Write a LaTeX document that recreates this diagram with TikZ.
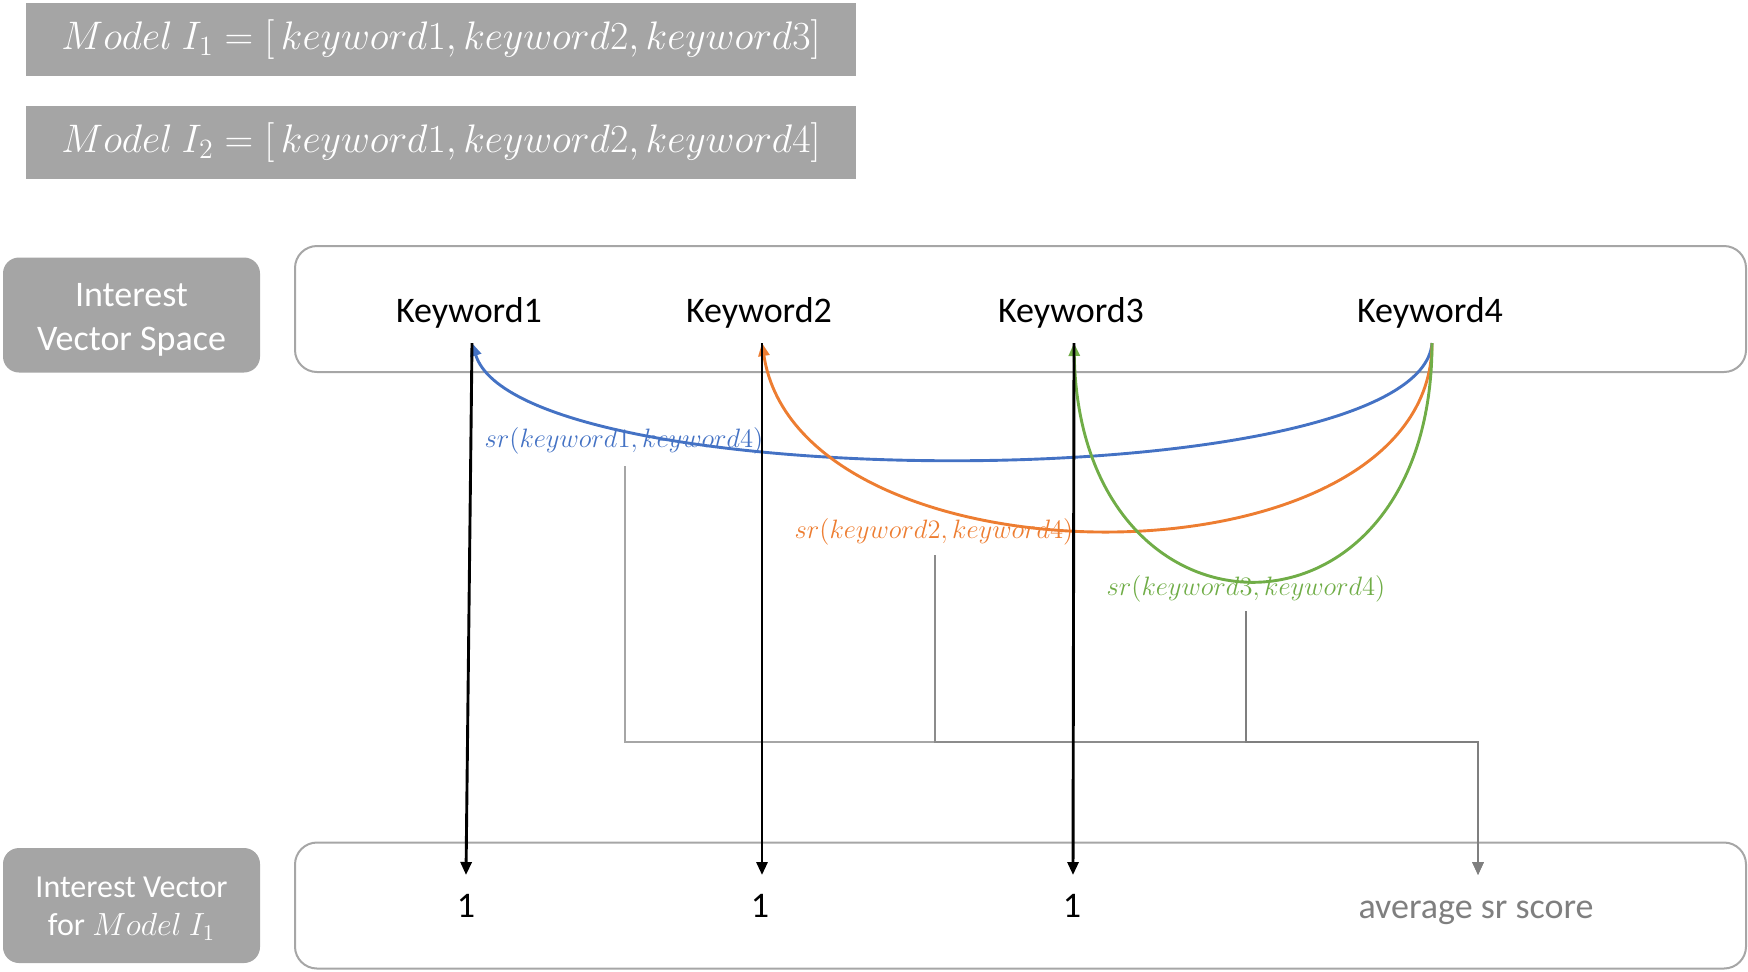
\RequirePackage{fix-cm}
\documentclass[tikz,border=0pt]{standalone}
\usepackage[no-math]{fontspec}
\setmainfont{Carlito}
\usetikzlibrary{arrows.meta}
\definecolor{boxgray}{HTML}{A5A5A5}
\definecolor{panelgray}{HTML}{A6A6A6}
\definecolor{kblue}{HTML}{4472C4}
\definecolor{korange}{HTML}{ED7D31}
\definecolor{kgreen}{HTML}{70AD47}
\definecolor{glight}{HTML}{A6A6A6}
\definecolor{gmid}{HTML}{8C8C8C}
\definecolor{gdark}{HTML}{7F7F7F}
\begin{document}
\begin{tikzpicture}[x=0.5pt,y=-0.5pt,
  graybox/.style={fill=boxgray, text=white, rounded corners=8pt, minimum width=128.5pt, minimum height=57.5pt, align=center, inner sep=0pt},
  topbox/.style={fill=boxgray, text=white, minimum width=415pt, minimum height=36.5pt, inner sep=0pt, font=\fontsize{19.9}{23}\selectfont},
  panel/.style={draw=panelgray, line width=1pt, rounded corners=11pt, minimum width=725.5pt, minimum height=63pt, inner sep=0pt},
  kw/.style={font=\fontsize{18}{22}\selectfont, inner sep=0pt},
  lbl/.style={font=\fontsize{13.3}{16}\selectfont, inner sep=0pt},
  tip/.style={-{Triangle[length=6.5pt,width=5.5pt]}},
  blk/.style={tip, line width=1.45pt, black},
  arc/.style={tip, line width=1.45pt},
  conn/.style={tip, line width=1.15pt}
]
\useasboundingbox (0,0) rectangle (1748,971);

% top formula boxes
\node[topbox] (m1) at (441,39.5) {$Model\ I_1 = [\,keyword1, keyword2, keyword3]$};
\node[topbox] (m2) at (441,142.5) {$Model\ I_2 = [\,keyword1, keyword2, keyword4]$};

% side labels (boxes, then text)
\node[graybox] (ivs) at (131.5,315) {};
\node[align=center, text=white, font=\fontsize{18}{22.3}\selectfont, inner sep=0pt] (ivst) at (131.5,320) {Interest\\Vector Space};
\node[graybox] (ivm) at (131.5,905.5) {};
\node[align=center, text=white, font=\fontsize{16}{19}\selectfont, inner sep=0pt] (ivmt) at (131.5,909) {Interest Vector\\for $Model\ I_1$};

% panels
\node[panel] (ptop) at (1020.5,309) {};
\node[panel] (pbot) at (1020.5,905.5) {};

% keywords
\node[kw] (k1) at (469,313) {Keyword1};
\node[kw] (k2) at (759,313) {Keyword2};
\node[kw] (k3) at (1071,313) {Keyword3};
\node[kw] (k4) at (1430,313) {Keyword4};

% values
\node[kw] (v1) at (466,906) {1};
\node[kw] (v2) at (760,906) {1};
\node[kw] (v3) at (1072,906) {1};
\node[kw, text=gdark] (v4) at (1476,913) {average sr score};

% anchor points
\coordinate (k1a) at (472,343);
\coordinate (k2a) at (762,343);
\coordinate (k3a) at (1074,343);
\coordinate (k4a) at (1432,343);
\coordinate (v1a) at (466,875);
\coordinate (v2a) at (762,875);
\coordinate (v3a) at (1073,875);
\coordinate (v4a) at (1478,875);
\coordinate (hj) at (1478,742);

% arc labels
\node[lbl, text=kblue] (l1) at (624,441) {$sr(keyword1, keyword4)$};
\node[lbl, text=korange] (l2) at (934,532) {$sr(keyword2, keyword4)$};
\node[lbl, text=kgreen] (l3) at (1246,589) {$sr(keyword3, keyword4)$};
\coordinate (g1) at (625,466);
\coordinate (g2) at (935,555);
\coordinate (g3) at (1246,611);

% gray connectors to average score
\draw[conn, glight] (g1) |- (hj) -- (v4a);
\draw[conn, gmid] (g2) |- (hj) -- (v4a);
\draw[conn, gdark, line width=1.45pt] (g3) |- (hj) -- (v4a);

% sr arcs
\draw[arc, kblue] (k4a) .. controls (1420,498) and (520,498) .. (k1a);
\draw[arc, korange] (k4a) .. controls (1432,593) and (800,593) .. (k2a);
\draw[arc, kgreen] (k4a) .. controls (1432,660) and (1080,660) .. (k3a);

% black arrows
\draw[blk] (k1a) -- (v1a);
\draw[blk] (k2a) -- (v2a);
\draw[blk] (k3a) -- (v3a);
\end{tikzpicture}
\end{document}
